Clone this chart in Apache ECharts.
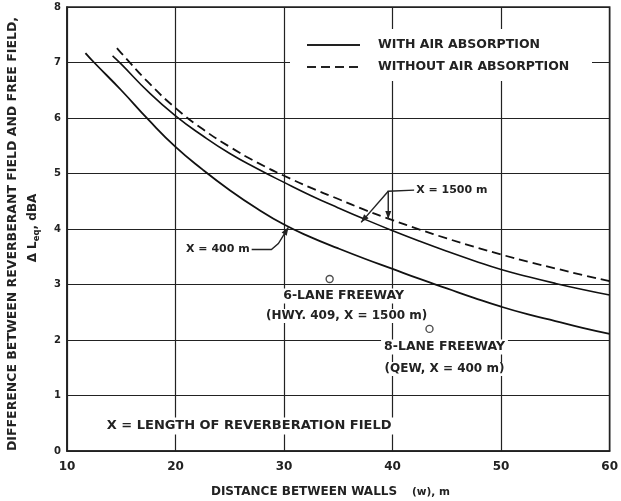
<!DOCTYPE html>
<html><head><meta charset="utf-8">
<script src="https://cdn.jsdelivr.net/npm/echarts@6/dist/echarts.min.js"></script>
<style>html,body{margin:0;padding:0;background:#fff}#c{width:621px;height:501px}</style>
</head><body><div id="c"></div>
<script>
// Distance between walls (m) and Δ Leq (dBA)
const x400 = [11.7, 12.5, 15, 17.5, 20, 22.5, 25, 27.5, 30, 32.5, 35, 37.5, 40, 42.5, 45, 47.5, 50, 52.5, 55, 57.5, 60];
const with400 = [7.17, 7.0, 6.5, 5.97, 5.48, 5.07, 4.7, 4.37, 4.08, 3.85, 3.65, 3.46, 3.28, 3.1, 2.93, 2.76, 2.6, 2.46, 2.34, 2.22, 2.11];
const x1500 = [14.2, 15, 17.5, 20, 22.5, 25, 27.5, 30, 32.5, 35, 37.5, 40, 42.5, 45, 47.5, 50, 52.5, 55, 57.5, 60];
const with1500 = [7.12, 6.97, 6.47, 6.04, 5.68, 5.36, 5.09, 4.84, 4.6, 4.38, 4.17, 3.97, 3.78, 3.6, 3.43, 3.27, 3.14, 3.02, 2.91, 2.81];
const xDash = [14.6, 15, 17.5, 20, 22.5, 25, 27.5, 30, 32.5, 35, 37.5, 40, 42.5, 45, 47.5, 50, 52.5, 55, 57.5, 60];
const without1500 = [7.26, 7.17, 6.64, 6.18, 5.8, 5.48, 5.2, 4.96, 4.74, 4.54, 4.34, 4.16, 3.99, 3.83, 3.68, 3.54, 3.41, 3.29, 3.17, 3.06];
const freewayPts = [[34.2, 3.1], [43.4, 2.2]];
const xTicks = [10, 20, 30, 40, 50, 60];
const yTicks = [0, 1, 2, 3, 4, 5, 6, 7, 8];

const FONT = '"DejaVu Sans", "Liberation Sans", Arial, sans-serif';
const chart = echarts.init(document.getElementById('c'));
const zip = (xs, ys) => xs.map((x, i) => [x, ys[i]]);

chart.setOption({
  backgroundColor: '#fff',
  animation: false,
  grid: {show: true, borderColor: '#222', borderWidth: 1.6, left: 67, right: 6, top: 7, bottom: 50},
  xAxis: {
    type: 'value', min: xTicks[0], max: xTicks[xTicks.length - 1], interval: 10,
    axisLine: {lineStyle: {color: '#222', width: 1.6}}, axisTick: {show: false},
    splitLine: {lineStyle: {color: '#222', width: 1.2}},
    axisLabel: {fontFamily: FONT, fontWeight: 'bold', fontSize: 12, color: '#222', margin: 10}
  },
  yAxis: {
    type: 'value', min: yTicks[0], max: yTicks[yTicks.length - 1], interval: 1,
    axisLine: {lineStyle: {color: '#222', width: 1.6}}, axisTick: {show: false},
    splitLine: {lineStyle: {color: '#222', width: 1.2}},
    axisLabel: {fontFamily: FONT, fontWeight: 'bold', fontSize: 10, color: '#222', margin: 6}
  },
  series: [
    {name: 'WITH AIR ABSORPTION (X = 400 m)', type: 'line', smooth: true, symbol: 'none', data: zip(x400, with400),
     lineStyle: {color: '#111', width: 1.8}},
    {name: 'WITH AIR ABSORPTION (X = 1500 m)', type: 'line', smooth: true, symbol: 'none', data: zip(x1500, with1500),
     lineStyle: {color: '#111', width: 1.6}},
    {name: 'WITHOUT AIR ABSORPTION (X = 1500 m)', type: 'line', smooth: true, symbol: 'none', data: zip(xDash, without1500),
     lineStyle: {color: '#111', width: 1.8, type: [9, 5]}},
    {name: 'freeways', type: 'scatter', symbol: 'circle', symbolSize: 7, data: freewayPts,
     itemStyle: {color: '#fff', borderColor: '#222', borderWidth: 1.4}, z: 5}
  ]
});

const P = (x, y) => chart.convertToPixel({gridIndex: 0}, [x, y]);
const txt = (x, y, text, align, extra) => Object.assign({
  type: 'text', x: x, y: y, z: 10,
  style: Object.assign({text: text, fill: '#222', font: 'bold 11px ' + FONT, align: align || 'left', verticalAlign: 'middle',
    backgroundColor: '#fff', padding: [2, 4]}, extra || {})
});
const line = (pts, dash, w) => ({type: 'polyline', z: 11, shape: {points: pts},
  style: {stroke: '#222', lineWidth: w || 1.4, fill: null, lineDash: dash || null}});
const arrowHead = (tip, from) => {
  const dx = tip[0] - from[0], dy = tip[1] - from[1], L = Math.hypot(dx, dy), ux = dx / L, uy = dy / L;
  const b = [tip[0] - ux * 8, tip[1] - uy * 8];
  return {type: 'polygon', z: 11, shape: {points: [tip, [b[0] - uy * 3, b[1] + ux * 3], [b[0] + uy * 3, b[1] - ux * 3]]},
    style: {fill: '#222'}};
};

const F12 = 'bold 12.5px ' + FONT;
const p6 = P(freewayPts[0][0], freewayPts[0][1]), p8 = P(freewayPts[1][0], freewayPts[1][1]);
const l1500 = P(41.8, 4.7);
const a1 = P(39.6, 4.68), a1t = P(39.6, 4.18);
const a2t = P(37.1, 4.12);
const l400 = P(27.2, 3.63);
const k400 = P(29.2, 3.63), t400 = P(30.4, 4.03);
const pLen = P(13.3, 0.45);
chart.setOption({
  graphic: [
    // legend
    {type: 'rect', z: 9, shape: {x: 290, y: 29, width: 302, height: 52}, style: {fill: '#fff'}},
    line([[307, 45], [360, 45]], null, 2),
    line([[307, 67], [360, 67]], [9, 5], 2),
    txt(374, 45, 'WITH AIR ABSORPTION', 'left', {backgroundColor: null, font: F12}),
    txt(374, 67, 'WITHOUT AIR ABSORPTION', 'left', {backgroundColor: null, font: F12}),
    // annotations
    txt(l1500[0], l1500[1], 'X = 1500 m', 'left'),
    line([[l1500[0] + 2, l1500[1]], a1, a1t]),
    arrowHead(a1t, a1),
    line([a1, a2t]),
    arrowHead(a2t, a1),
    txt(l400[0], l400[1], 'X = 400 m', 'right'),
    line([[l400[0] - 2, l400[1]], [k400[0] - 4, k400[1]], [k400[0] + 3, k400[1] - 6], t400]),
    arrowHead(t400, [k400[0] + 3, k400[1] - 6]),
    txt(p6[0] + 14, p6[1] + 17, '6-LANE FREEWAY', 'center', {padding: [1, 3], font: F12}),
    txt(p6[0] + 17, p6[1] + 37, '(HWY. 409, X = 1500 m)', 'center', {padding: [1, 3], font: 'bold 12px ' + FONT}),
    txt(p8[0] + 15, p8[1] + 18, '8-LANE FREEWAY', 'center', {padding: [1, 3], font: F12}),
    txt(p8[0] + 15, p8[1] + 40, '(QEW, X = 400 m)', 'center', {padding: [1, 3], font: 'bold 12px ' + FONT}),
    txt(pLen[0], pLen[1], 'X = LENGTH OF REVERBERATION FIELD', 'left', {font: 'bold 13px ' + FONT}),
    // axis titles
    {type: 'text', x: 304, y: 492, z: 10,
     style: {text: 'DISTANCE BETWEEN WALLS', fill: '#222', font: 'bold 12px ' + FONT, align: 'center', verticalAlign: 'middle'}},
    {type: 'text', x: 412, y: 492, z: 10,
     style: {text: '(w), m', fill: '#222', font: 'bold 10.5px ' + FONT, align: 'left', verticalAlign: 'middle'}},
    {type: 'text', x: 13, y: 234, rotation: Math.PI / 2, z: 10,
     style: {text: 'DIFFERENCE BETWEEN REVERBERANT FIELD AND FREE FIELD,', fill: '#222', font: 'bold 12.5px ' + FONT, align: 'center', verticalAlign: 'middle'}},
    {type: 'text', x: 33, y: 228, rotation: Math.PI / 2, z: 10,
     style: {rich: {a: {font: 'bold 12px ' + FONT, fill: '#222'}, s: {font: 'bold 8.5px ' + FONT, fill: '#222', padding: [7, 0, 0, 0]}},
       text: '{a|Δ L}{s|eq}{a|, dBA}', align: 'center', verticalAlign: 'middle'}}
  ]
});
</script></body></html>
